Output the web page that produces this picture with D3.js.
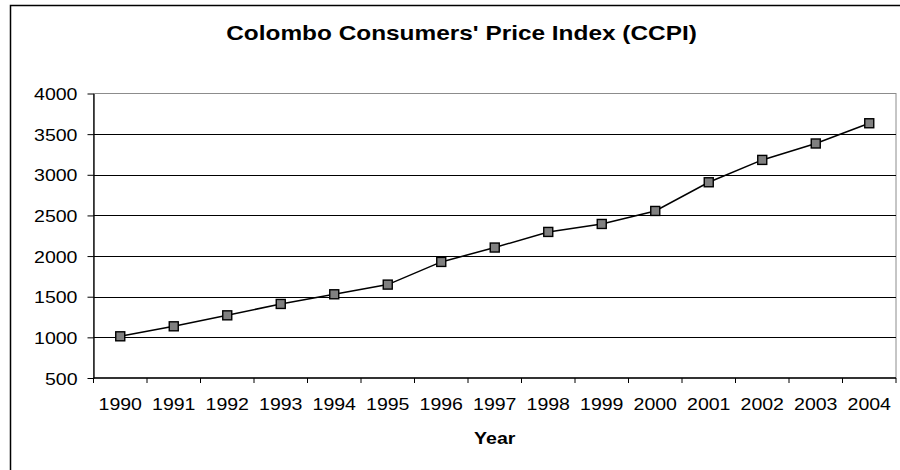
<!DOCTYPE html>
<html>
<head>
<meta charset="utf-8">
<script src="https://cdn.jsdelivr.net/npm/d3@7"></script>
<style>
  html, body { margin: 0; padding: 0; background: #fff; }
  svg { display: block; }
  text { font-family: "Liberation Sans", Arial, sans-serif; fill: #000; }
</style>
</head>
<body>
<svg id="chart" width="900" height="470"></svg>
<script>
// Colombo Consumers' Price Index, yearly values
const years = ["1990","1991","1992","1993","1994","1995","1996","1997","1998","1999","2000","2001","2002","2003","2004"];
const ccpi = [1013, 1136, 1271, 1411, 1530, 1649, 1928, 2105, 2297, 2395, 2555, 2908, 3183, 3385, 3634];
const yTicks = [500, 1000, 1500, 2000, 2500, 3000, 3500, 4000];
const titleText = "Colombo Consumers' Price Index (CCPI)";
const xTitle = "Year";

const svg = d3.select("#chart");
const plot = { left: 93.5, right: 896, top: 93.5, bottom: 378 };
const stretch = 1.15; // labels are drawn horizontally widened

// outer chart frame (extends past the visible window on right and bottom)
svg.append("rect")
  .attr("x", 10.5).attr("y", 5.5)
  .attr("width", 1000).attr("height", 1000)
  .attr("fill", "#fff").attr("stroke", "#000").attr("stroke-width", 1.5);

const x = d3.scaleBand().domain(years).range([plot.left, plot.right]);
const y = d3.scaleLinear().domain([500, 4000]).range([plot.bottom, plot.top]);

// plot area border
svg.append("rect")
  .attr("x", plot.left).attr("y", plot.top)
  .attr("width", plot.right - plot.left).attr("height", plot.bottom - plot.top)
  .attr("fill", "#fff").attr("stroke", "#8c8c8c").attr("stroke-width", 1);

// horizontal gridlines
svg.append("g")
  .selectAll("line")
  .data(yTicks.filter(v => v > 500 && v < 4000))
  .join("line")
  .attr("x1", plot.left).attr("x2", plot.right)
  .attr("y1", d => Math.round(y(d)) + 0.5).attr("y2", d => Math.round(y(d)) + 0.5)
  .attr("stroke", "#000").attr("stroke-width", 1);

// y axis
const yAxis = svg.append("g")
  .attr("transform", `translate(${plot.left},0)`)
  .call(d3.axisLeft(y).tickValues(yTicks).tickFormat(d3.format("d"))
    .tickSize(6).tickSizeOuter(0).tickPadding(10));
yAxis.select(".domain").attr("stroke", "#000").attr("stroke-width", 1.3);
yAxis.selectAll(".tick line").attr("stroke", "#000");
yAxis.selectAll(".tick text")
  .attr("font-size", 17)
  .attr("font-family", "Liberation Sans, Arial, sans-serif")
  .attr("dy", null)
  .attr("y", 6)
  .attr("transform", function () {
    const tx = +d3.select(this).attr("x");
    d3.select(this).attr("x", 0);
    return `translate(${tx},0) scale(${stretch},1)`;
  });

// x axis with ticks on category boundaries
const xAxis = svg.append("g")
  .attr("transform", `translate(0,${plot.bottom})`);
xAxis.append("line")
  .attr("x1", plot.left).attr("x2", plot.right)
  .attr("y1", 0).attr("y2", 0)
  .attr("stroke", "#000").attr("stroke-width", 1.3);
xAxis.selectAll("line.tk")
  .data(years.concat(["end"]))
  .join("line")
  .attr("class", "tk")
  .attr("x1", (d, i) => i < years.length ? x(d) : plot.right)
  .attr("x2", (d, i) => i < years.length ? x(d) : plot.right)
  .attr("y1", 0).attr("y2", 5)
  .attr("stroke", "#000");
xAxis.selectAll("text")
  .data(years)
  .join("text")
  .attr("text-anchor", "middle")
  .attr("font-size", 17)
  .attr("transform", d => `translate(${x(d) + x.bandwidth() / 2},31.5) scale(${stretch},1)`)
  .text(d => d);

// series line
const line = d3.line()
  .x((d, i) => x(years[i]) + x.bandwidth() / 2)
  .y(d => y(d));
svg.append("path")
  .datum(ccpi)
  .attr("d", line)
  .attr("fill", "none")
  .attr("stroke", "#000")
  .attr("stroke-width", 1.5);

// square markers
const m = 9;
svg.append("g")
  .selectAll("rect")
  .data(ccpi)
  .join("rect")
  .attr("x", (d, i) => x(years[i]) + x.bandwidth() / 2 - m / 2)
  .attr("y", d => y(d) - m / 2)
  .attr("width", m).attr("height", m)
  .attr("fill", "#808080")
  .attr("stroke", "#000")
  .attr("stroke-width", 1.4);

// title
svg.append("text")
  .attr("text-anchor", "middle")
  .attr("font-size", 20)
  .attr("font-weight", "bold")
  .attr("transform", `translate(461.5,39.5) scale(1.22,1)`)
  .text(titleText);

// x axis title
svg.append("text")
  .attr("text-anchor", "middle")
  .attr("font-size", 17)
  .attr("font-weight", "bold")
  .attr("transform", `translate(${(plot.left + plot.right) / 2},443.5) scale(${stretch},1)`)
  .text(xTitle);
</script>
</body>
</html>
